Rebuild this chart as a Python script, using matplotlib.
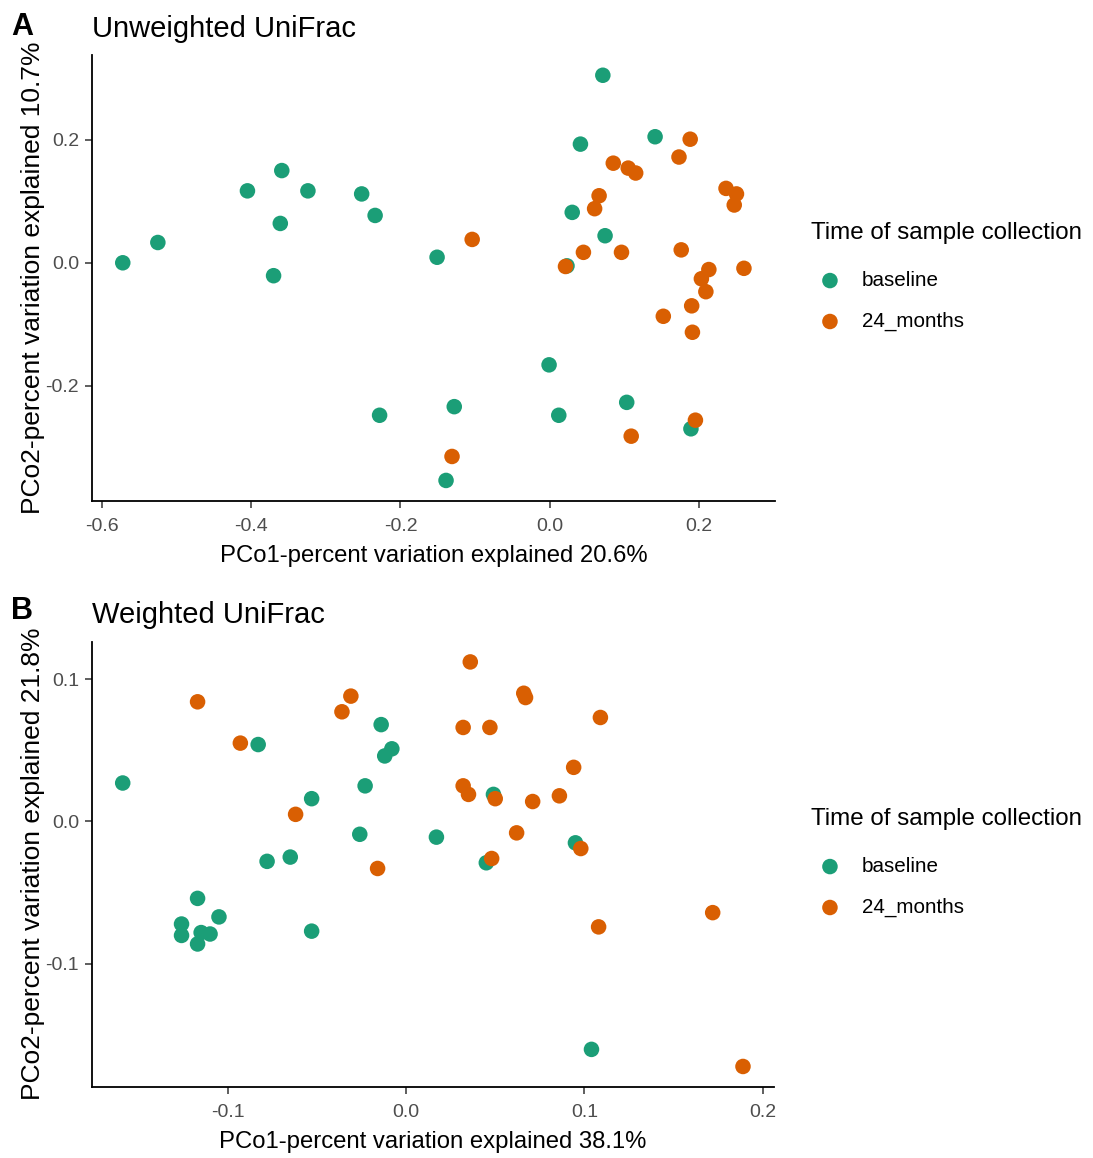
import matplotlib
matplotlib.use("Agg")
import matplotlib.pyplot as plt
import numpy as np

plt.rcParams['font.family'] = ['Liberation Sans', 'DejaVu Sans']

# ---------------- data ----------------
groups = ["baseline", "24_months"]
colors = {"baseline": "#1B9E77", "24_months": "#D95F02"}

# Panel A: Unweighted UniFrac
unw_base_x = [-0.572, -0.525, -0.405, -0.359, -0.324, -0.252, -0.234, -0.361, -0.370, -0.228,
              -0.151, 0.071, 0.041, 0.141, 0.030, 0.074, 0.023, -0.001, -0.128, 0.012,
              0.103, 0.189, -0.139]
unw_base_y = [0.000, 0.033, 0.117, 0.150, 0.117, 0.112, 0.077, 0.064, -0.021, -0.248,
              0.009, 0.305, 0.193, 0.205, 0.082, 0.044, -0.005, -0.166, -0.234, -0.248,
              -0.227, -0.270, -0.354]
unw_24m_x = [-0.104, 0.021, 0.045, 0.096, 0.066, 0.060, 0.085, 0.105, 0.115, 0.188,
             0.173, 0.236, 0.250, 0.247, 0.176, 0.260, 0.213, 0.203, 0.209, 0.190,
             0.152, 0.191, 0.195, 0.109, -0.131]
unw_24m_y = [0.038, -0.006, 0.017, 0.017, 0.109, 0.088, 0.162, 0.154, 0.146, 0.201,
             0.172, 0.121, 0.112, 0.094, 0.021, -0.009, -0.011, -0.026, -0.047, -0.070,
             -0.087, -0.113, -0.256, -0.282, -0.315]

# Panel B: Weighted UniFrac
w_base_x = [-0.159, -0.083, -0.014, -0.008, -0.012, -0.023, -0.053, -0.026, -0.065, -0.078,
            -0.117, -0.105, -0.126, -0.126, -0.115, -0.110, -0.117, -0.053, 0.017, 0.049,
            0.045, 0.095, 0.104]
w_base_y = [0.027, 0.054, 0.068, 0.051, 0.046, 0.025, 0.016, -0.009, -0.025, -0.028,
            -0.054, -0.067, -0.072, -0.080, -0.078, -0.079, -0.086, -0.077, -0.011, 0.019,
            -0.029, -0.015, -0.160]
w_24m_x = [-0.117, -0.031, -0.036, -0.093, -0.062, -0.016, 0.036, 0.066, 0.067, 0.109,
           0.032, 0.047, 0.094, 0.032, 0.035, 0.050, 0.071, 0.086, 0.062, 0.098,
           0.048, 0.172, 0.108, 0.189]
w_24m_y = [0.084, 0.088, 0.077, 0.055, 0.005, -0.033, 0.112, 0.090, 0.087, 0.073,
           0.066, 0.066, 0.038, 0.025, 0.019, 0.016, 0.014, 0.018, -0.008, -0.019,
           -0.026, -0.064, -0.074, -0.172]

legend_title = "Time of sample collection"

panels = [
    dict(tag="A", title="Unweighted UniFrac",
         xlabel="PCo1-percent variation explained 20.6%",
         ylabel="PCo2-percent variation explained 10.7%",
         xticks=[-0.6, -0.4, -0.2, 0.0, 0.2], yticks=[-0.2, 0.0, 0.2],
         data={"baseline": (unw_base_x, unw_base_y), "24_months": (unw_24m_x, unw_24m_y)}),
    dict(tag="B", title="Weighted UniFrac",
         xlabel="PCo1-percent variation explained 38.1%",
         ylabel="PCo2-percent variation explained 21.8%",
         xticks=[-0.1, 0.0, 0.1, 0.2], yticks=[-0.1, 0.0, 0.1],
         data={"baseline": (w_base_x, w_base_y), "24_months": (w_24m_x, w_24m_y)}),
]

W, H = 1093, 1158
fig = plt.figure(figsize=(W / 100, H / 100), dpi=100)

# axes boxes in pixels: left, top, right, bottom
boxes = [(91.7, 55, 775, 500.7), (91.7, 641.7, 774, 1086.7)]
legend_title_y = [233, 819]
legend_top = [271, 857]
tag_pos = [(22, 27), (22, 611)]

for p, (l, t, r, b), lty, ltop, (tx, ty) in zip(panels, boxes, legend_title_y, legend_top, tag_pos):
    ax = fig.add_axes([l / W, 1 - b / H, (r - l) / W, (b - t) / H])
    allx, ally = [], []
    for g in groups:
        xs, ys = p["data"][g]
        allx += xs
        ally += ys
        ax.scatter(xs, ys, s=125, color=colors[g], edgecolors='none', label=g, zorder=3)
    # ggplot-like 5% expansion
    xmn, xmx = min(allx), max(allx)
    ymn, ymx = min(ally), max(ally)
    dx, dy = (xmx - xmn) * 0.05, (ymx - ymn) * 0.05
    ax.set_xlim(xmn - dx, xmx + dx)
    ax.set_ylim(ymn - dy, ymx + dy)
    ax.set_xticks(p["xticks"])
    ax.set_yticks(p["yticks"])
    ax.set_xticklabels([f"{v:.1f}" for v in p["xticks"]])
    ax.set_yticklabels([f"{v:.1f}" for v in p["yticks"]])
    for s in ["top", "right"]:
        ax.spines[s].set_visible(False)
    for s in ["left", "bottom"]:
        ax.spines[s].set_linewidth(1.3)
        ax.spines[s].set_color("black")
    ax.tick_params(axis='both', direction='out', length=5, width=1.1, color="#333333",
                   labelsize=14, labelcolor="#4D4D4D")
    ax.tick_params(axis='x', pad=7.5)
    ax.tick_params(axis='y', pad=4)
    ax.set_xlabel(p["xlabel"], fontsize=17.2, labelpad=7.5)
    ax.set_ylabel(p["ylabel"], fontsize=19, labelpad=0.5)
    ax.set_title(p["title"], fontsize=21, loc='left', pad=13.3)
    fig.text(tx / W, 1 - ty / H, p["tag"], fontsize=22, fontweight='bold', ha='center', va='center')
    fig.text(811 / W, 1 - lty / H, legend_title, fontsize=17.4, ha='left', va='center')
    ax.legend(loc='upper left', bbox_to_anchor=(819.6 / W, 1 - ltop / H),
              bbox_transform=fig.transFigure, frameon=False, fontsize=14.9,
              handlelength=1.0, handletextpad=1.05, labelspacing=1.06, borderpad=0,
              borderaxespad=0, markerscale=1.0)

fig.savefig("out.png", dpi=100, facecolor="white")
